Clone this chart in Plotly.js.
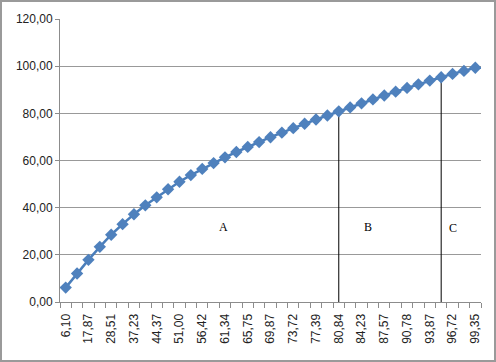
<!DOCTYPE html>
<html>
<head>
<meta charset="utf-8">
<script src="https://cdn.plot.ly/plotly-3.0.1.min.js"></script>
<style>
html,body{margin:0;padding:0;background:#fff;}
#chart{width:496px;height:362px;box-sizing:border-box;border:2px solid #9a9a9a;}
</style>
</head>
<body>
<div id="chart"></div>
<script>
// Cumulative share (%) for each item
const cumValues = [6.10, 12.1, 17.87, 23.4, 28.51, 33.0, 37.23, 41.0, 44.37, 47.8,
  51.00, 53.8, 56.42, 58.9, 61.34, 63.6, 65.75, 67.8, 69.87, 71.8,
  73.72, 75.6, 77.39, 79.1, 80.84, 82.5, 84.23, 85.9, 87.57, 89.2,
  90.78, 92.3, 93.87, 95.3, 96.72, 98.0, 99.35];
// Category labels (the cumulative value written with a decimal comma)
const categories = cumValues.map(v => v.toFixed(2).replace('.', ','));
const shownLabels = categories.filter((c, i) => i % 2 === 0);
// Boundaries between groups A/B and B/C (category index)
const boundaryIdx = [24, 33];
const groupNames = ['A', 'B', 'C'];
const groupLabelX = [13.9, 26.6, 34.0];
const groupLabelY = [32, 32, 31.5];

const traces = [];
boundaryIdx.forEach(i => {
  traces.push({
    type: 'scatter', mode: 'lines',
    x: [categories[i], categories[i]], y: [0, cumValues[i]],
    line: {color: '#000', width: 1}, hoverinfo: 'skip', showlegend: false
  });
});
traces.push({
  type: 'scatter', mode: 'lines+markers',
  x: categories, y: cumValues,
  line: {color: '#4A7EBB', width: 2.5},
  marker: {symbol: 'diamond', size: 9.5, color: '#4F81BD', line: {width: 0}},
  showlegend: false
});
traces.push({
  type: 'scatter', mode: 'markers', x: [0], y: [0], xaxis: 'x2', yaxis: 'y',
  marker: {opacity: 0}, hoverinfo: 'skip', showlegend: false
});

const layout = {
  width: 492, height: 358,
  autosize: false,
  margin: {l: 58, r: 13, t: 17, b: 58, pad: 0},
  paper_bgcolor: '#fff', plot_bgcolor: '#fff',
  separators: ',.',
  showlegend: false,
  font: {family: 'Liberation Sans, Arial, sans-serif', size: 12, color: '#222'},
  xaxis: {
    type: 'category', categoryorder: 'array', categoryarray: categories,
    range: [-0.5, categories.length - 0.5],
    tickvals: shownLabels, ticktext: shownLabels,
    tickangle: -90, ticks: 'outside', ticklen: 6, tickcolor: 'rgba(0,0,0,0)',
    showline: true, linecolor: '#8c8c8c', linewidth: 1,
    showgrid: false, zeroline: false,
    tickfont: {size: 12, color: '#222'}
  },
  xaxis2: {
    overlaying: 'x', anchor: 'y', side: 'bottom',
    range: [-0.5, categories.length - 0.5],
    tick0: -0.5, dtick: 1, ticks: 'outside', ticklen: 5, tickcolor: '#8c8c8c',
    showticklabels: false, showgrid: false, zeroline: false, showline: false
  },
  yaxis: {
    range: [0, 120], dtick: 20, tickformat: '.2f',
    ticks: 'outside', ticklen: 4, tickcolor: '#8c8c8c',
    showline: true, linecolor: '#8c8c8c', linewidth: 1,
    showgrid: true, gridcolor: '#999999', gridwidth: 1, zeroline: false,
    tickfont: {size: 12, color: '#222'}
  },
  annotations: groupNames.map((g, i) => ({
    text: g, x: groupLabelX[i], y: groupLabelY[i], xref: 'x', yref: 'y',
    showarrow: false, font: {family: 'Liberation Serif, Times New Roman, serif', size: 12, color: '#000'}
  }))
};

Plotly.newPlot('chart', traces, layout, {displayModeBar: false, staticPlot: true});
</script>
</body>
</html>
